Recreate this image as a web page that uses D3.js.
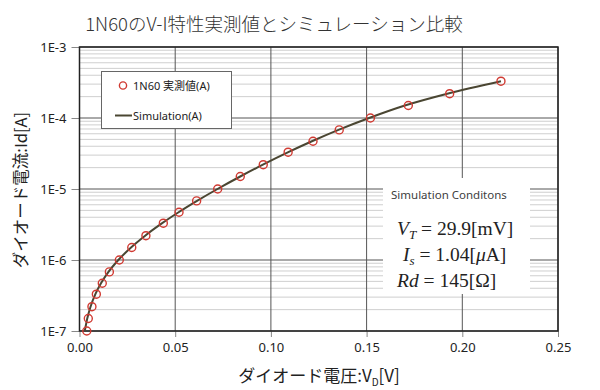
<!DOCTYPE html>
<html><head><meta charset="utf-8">
<script src="https://cdn.jsdelivr.net/npm/d3@7/dist/d3.min.js"></script>
<style>
body{margin:0;background:#fff;}
svg{display:block;}
text{font-family:"Noto Sans","Noto Sans CJK JP",sans-serif;}
.jp{font-family:"Noto Sans CJK JP","Noto Sans",sans-serif;}
.math{font-family:"Liberation Serif","DejaVu Serif",serif;}
</style></head>
<body>
<svg id="c" width="600" height="390"></svg>
<script>
// Measured data (1N60)
const measuredCurrent = [1e-7,1.5e-7,2.2e-7,3.3e-7,4.7e-7,6.8e-7,1e-6,1.5e-6,2.2e-6,3.3e-6,4.7e-6,6.8e-6,1e-5,1.5e-5,2.2e-5,3.3e-5,4.7e-5,6.8e-5,1e-4,1.5e-4,2.2e-4,3.3e-4];
const measuredVoltage = [0.0038,0.0046,0.0065,0.0088,0.0119,0.0156,0.0208,0.0273,0.0347,0.0438,0.0520,0.0612,0.0722,0.0840,0.0960,0.1090,0.1220,0.1357,0.1520,0.1718,0.1934,0.2202];
// Simulation curve points
const simCurrent = [1e-7,1.5e-7,2.2e-7,3.3e-7,4.7e-7,6.8e-7,1e-6,1.5e-6,2.2e-6,3.3e-6,4.7e-6,6.8e-6,1e-5,1.5e-5,2.2e-5,3.3e-5,4.7e-5,6.8e-5,1e-4,1.5e-4,2.2e-4,3.3e-4];
const simVoltage = [0.00276,0.00405,0.00577,0.00829,0.01122,0.01514,0.0203,0.02692,0.0343,0.0432,0.05176,0.06139,0.07208,0.08398,0.09582,0.10909,0.12142,0.1353,0.1513,0.16998,0.19214,0.2202];
const xTicks = [0,0.05,0.10,0.15,0.20,0.25];
const yTicks = [1e-7,1e-6,1e-5,1e-4,1e-3];
const yTickLabels = ["1E-7","1E-6","1E-5","1E-4","1E-3"];
const titleText = "1N60のV-I特性実測値とシミュレーション比較";
const xTitleMain = "ダイオード電圧:V";
const xTitleSub = "D";
const xTitleEnd = "[V]";
const yTitle = "ダイオード電流:Id[A]";
const legendMeasured = "1N60 実測値(A)";
const legendSim = "Simulation(A)";
const condTitle = "Simulation Conditons";

const svg = d3.select("#c");
const L=79.5, R=558, T=47, B=331;
const x = d3.scaleLinear().domain([0,0.25]).range([L,R]);
const y = d3.scaleLog().domain([1e-7,1e-3]).range([B,T]);

// minor horizontal grid
const minor=[];
for(let e=-7;e<-3;e++){for(let m=2;m<=9;m++){minor.push(m*Math.pow(10,e));}}
svg.append("g").selectAll("line").data(minor).join("line")
 .attr("x1",L).attr("x2",R).attr("y1",d=>y(d)).attr("y2",d=>y(d))
 .attr("stroke","#cfcfcf").attr("stroke-width",1);
// major grid
svg.append("g").selectAll("line").data(yTicks).join("line")
 .attr("x1",L).attr("x2",R).attr("y1",d=>y(d)).attr("y2",d=>y(d))
 .attr("stroke","#555").attr("stroke-width",1);
svg.append("g").selectAll("line").data(xTicks).join("line")
 .attr("x1",d=>x(d)).attr("x2",d=>x(d)).attr("y1",T).attr("y2",B)
 .attr("stroke","#555").attr("stroke-width",1);

// axes
const yAxis = d3.axisLeft(y).tickValues(yTicks).tickFormat((d,i)=>yTickLabels[i]).tickSize(8).tickPadding(5);
const gy = svg.append("g").attr("transform",`translate(${L},0)`).call(yAxis);
gy.select(".domain").remove();
gy.selectAll(".tick line").attr("stroke","#888");
gy.selectAll("text").attr("font-size",13).attr("fill","#222");
const xAxis = d3.axisBottom(x).tickValues(xTicks).tickFormat(d3.format(".2f")).tickSize(6).tickPadding(6);
const gx = svg.append("g").attr("transform",`translate(0,${B})`).call(xAxis);
gx.select(".domain").remove();
gx.selectAll(".tick line").attr("stroke","#888");
gx.selectAll("text").attr("font-size",13).attr("fill","#222");

// plot border
svg.append("rect").attr("x",L).attr("y",T).attr("width",R-L).attr("height",B-T)
 .attr("fill","none").attr("stroke","#222").attr("stroke-width",1.5);

// simulation line
const simData = simCurrent.map((c,i)=>({v:simVoltage[i],i:c}));
svg.append("path").datum(simData)
 .attr("d",d3.line().x(d=>x(d.v)).y(d=>y(d.i)).curve(d3.curveMonotoneX))
 .attr("fill","none").attr("stroke","#4a4632").attr("stroke-width",2);

// measured points
const mData = measuredCurrent.map((c,i)=>({v:measuredVoltage[i],i:c}));
svg.append("g").selectAll("circle").data(mData).join("circle")
 .attr("cx",d=>x(d.v)).attr("cy",d=>y(d.i)).attr("r",4)
 .attr("fill","none").attr("stroke","#d03a32").attr("stroke-width",1.4);

// legend
const lg = svg.append("g");
lg.append("rect").attr("x",101.5).attr("y",71.5).attr("width",130).attr("height",57)
 .attr("fill","#fff").attr("stroke","#666").attr("stroke-width",1);
lg.append("circle").attr("cx",123).attr("cy",85.5).attr("r",3.6)
 .attr("fill","none").attr("stroke","#d03a32").attr("stroke-width",1.4);
lg.append("text").attr("x",133).attr("y",89.5).attr("font-size",11).attr("fill","#222").text(legendMeasured);
lg.append("line").attr("x1",115).attr("x2",132).attr("y1",115.5).attr("y2",115.5)
 .attr("stroke","#4a4632").attr("stroke-width",2);
lg.append("text").attr("x",133).attr("y",119.5).attr("font-size",11).attr("fill","#222").text(legendSim);

// conditions box
const cb = svg.append("g");
cb.append("rect").attr("x",383).attr("y",178).attr("width",147).attr("height",116).attr("fill","#fff");
cb.append("text").attr("x",391).attr("y",199).attr("font-size",11.5).attr("fill","#404040").text(condTitle);
const m1 = cb.append("text").attr("class","math").attr("x",397).attr("y",235).attr("font-size",19.5).attr("fill","#222");
m1.append("tspan").attr("font-style","italic").text("V");
m1.append("tspan").attr("font-style","italic").attr("font-size",13).attr("dy",4).text("T");
m1.append("tspan").attr("dy",-4).text(" = 29.9[mV]");
const m2 = cb.append("text").attr("class","math").attr("x",403).attr("y",261).attr("font-size",19.5).attr("fill","#222");
m2.append("tspan").attr("font-style","italic").text("I");
m2.append("tspan").attr("font-style","italic").attr("font-size",13).attr("dy",4).text("s");
m2.append("tspan").attr("dy",-4).text(" = 1.04[");
m2.append("tspan").attr("font-style","italic").text("μ");
m2.append("tspan").text("A]");
const m3 = cb.append("text").attr("class","math").attr("x",397).attr("y",287).attr("font-size",19.5).attr("fill","#222");
m3.append("tspan").attr("font-style","italic").text("Rd");
m3.append("tspan").text(" = 145[Ω]");

// titles
svg.append("text").attr("class","jp").attr("x",274).attr("y",31).attr("text-anchor","middle")
 .attr("font-size",18.5).attr("font-weight",300).attr("fill","#333").text(titleText);
const xt = svg.append("text").attr("class","jp").attr("x",319).attr("y",382).attr("text-anchor","middle")
 .attr("font-size",17).attr("fill","#222");
xt.append("tspan").text(xTitleMain);
xt.append("tspan").attr("font-size",10).attr("dy",4).text(xTitleSub);
xt.append("tspan").attr("dy",-4).text(xTitleEnd);
svg.append("text").attr("class","jp").attr("transform","translate(27,190) rotate(-90)")
 .attr("text-anchor","middle").attr("font-size",16.5).attr("fill","#222").text(yTitle);
</script>
</body></html>
